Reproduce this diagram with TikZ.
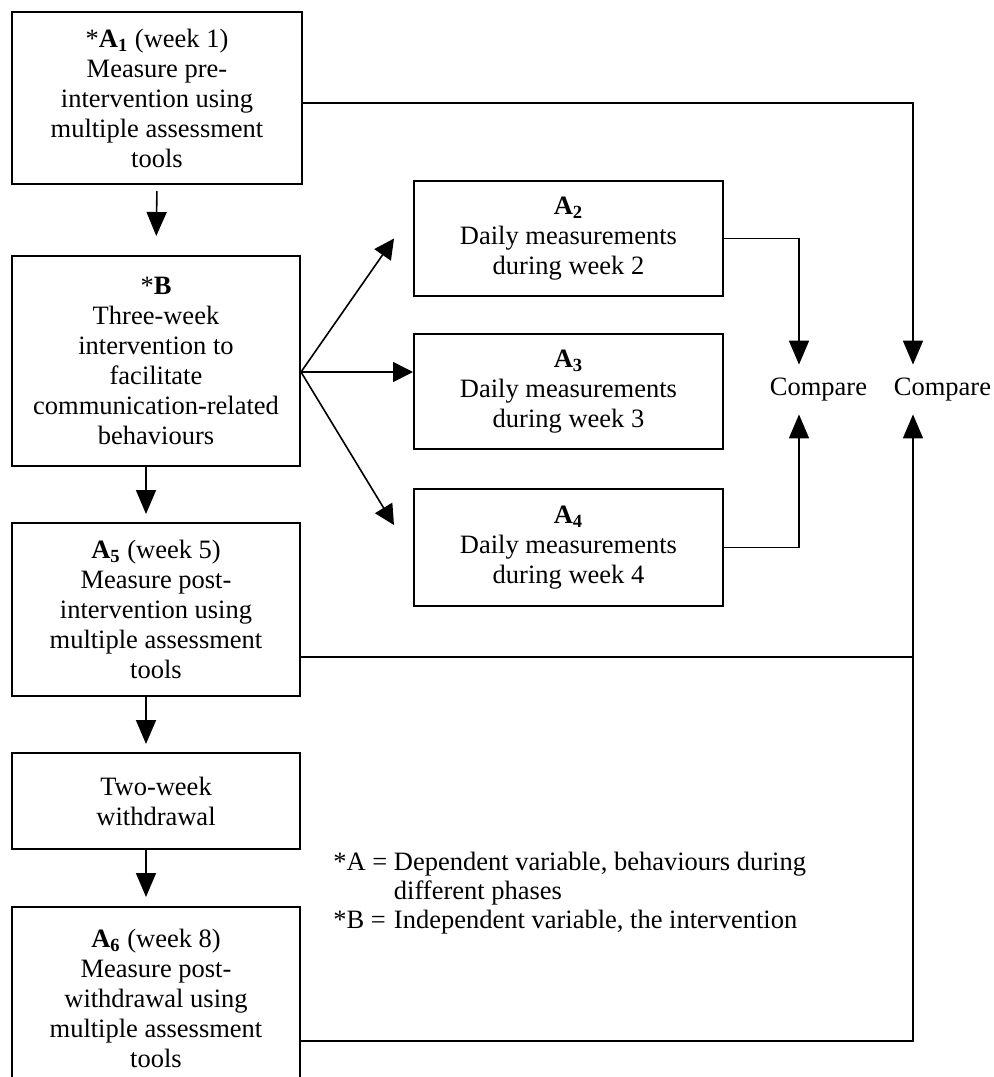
\documentclass[tikz,border=0pt]{standalone}
\usepackage{fontspec}
\setmainfont{Liberation Serif}
\usepackage{tikz}
\usetikzlibrary{arrows.meta}
\usetikzlibrary{positioning, calc}

\begin{document}
\begin{tikzpicture}[
      x=0.5pt, y=-0.5pt,
      box_style/.style={draw, line width=1pt, align=center, inner sep=0pt,
        font=\fontsize{13.25}{15}\selectfont},
      left_box/.style={box_style, minimum width=144pt},
      right_box/.style={box_style, minimum width=154.5pt, minimum height=57.5pt},
      lbl/.style={inner sep=0pt, font=\fontsize{13.25}{15}\selectfont},
      arrow_style/.style={line width=0.8pt, -{Triangle[length=12pt, width=10pt]}},
      fan_style/.style={line width=0.8pt, -{Triangle[length=10pt, width=10pt]}},
      line_style/.style={line width=0.8pt}
  ]

  % 1. Area del disegno
  \clip (0, 0) rectangle (994, 1077);

  % 2. Colonna sinistra
  \node[left_box, minimum width=145pt, minimum height=86pt] (a1) at (157, 98)
    {*\textbf{A\textsubscript{1}} (week 1)\\ Measure pre-\\ intervention using\\ multiple assessment\\ tools};
  \node[left_box, minimum height=105pt] (b) at (156, 361)
    {*\textbf{B}\\ Three-week\\ intervention to\\ facilitate\\ communication-related\\ behaviours};
  \node[left_box, minimum height=86.5pt] (a5) at (156, 609.5)
    {\textbf{A\textsubscript{5}} (week 5)\\ Measure post-\\ intervention using\\ multiple assessment\\ tools};
  \node[left_box, minimum height=48pt] (wd) at (156, 801)
    {Two-week\\ withdrawal};
  \node[left_box, minimum height=91pt] (a6) at (156, 998)
    {\textbf{A\textsubscript{6}} (week 8)\\ Measure post-\\ withdrawal using\\ multiple assessment\\ tools};

  % 3. Misure giornaliere
  \node[right_box] (a2) at (568.5, 238.5)
    {\textbf{A\textsubscript{2}}\\ Daily measurements\\ during week 2};
  \node[right_box] (a3) at (568.5, 391.5)
    {\textbf{A\textsubscript{3}}\\ Daily measurements\\ during week 3};
  \node[right_box, minimum height=58.5pt] (a4) at (568.5, 547.5)
    {\textbf{A\textsubscript{4}}\\ Daily measurements\\ during week 4};

  % 4. Confronti
  \node[lbl, minimum height=24.5pt] (cmp1) at (818.5, 389.5) {Compare};
  \node[lbl, minimum height=24.5pt] (cmp2) at (942.5, 389.5) {Compare};

  % 5. Frecce verticali
  \draw[arrow_style, shorten <=3pt, shorten >=9.5pt] (a1.south) -- (b.north);
  \draw[arrow_style, shorten >=4pt] ([xshift=-5pt]b.south) -- ([xshift=-5pt]a5.north);
  \draw[arrow_style, shorten >=4pt] ([xshift=-5pt]a5.south) -- ([xshift=-5pt]wd.north);
  \draw[arrow_style, shorten >=4.5pt] ([xshift=-5pt]wd.south) -- ([xshift=-5pt]a6.north);

  % 6. Ventaglio da B
  \coordinate (fan) at ($(b.east)+(0, 11)$);
  \draw[fan_style] (fan) -- ($(a2.west)+(-19, 0)$);
  \draw[fan_style] (fan) -- (fan -| a3.west);
  \draw[fan_style] (fan) -- ($(a4.west)+(-19, -22.5)$);

  % 7. Collegamenti ai confronti
  \draw[arrow_style] (a2.east) -| ($(cmp1.north)+(-19.5, 0)$);
  \draw[arrow_style] (a4.east) -| ($(cmp1.south)+(-19.5, 0)$);
  \draw[arrow_style] ($(a1.east)+(0, 5)$) -| ($(cmp2.north)+(-29.5, 0)$);
  \coordinate (cmp2in) at ($(cmp2.south)+(-29.5, 0)$);
  \draw[arrow_style] ($(a6.east)+(0, 43)$) -| (cmp2in);
  \coordinate (a5out) at ($(a5.east)+(0, 47.5)$);
  \draw[line_style] (a5out) -- (a5out -| cmp2in);

  % 8. Legenda
  \node[lbl, anchor=west, font=\fontsize{13.25}{14.5}\selectfont] (key) at (333, 894)
    {\begin{tabular}{@{}l@{\ }l@{}}
      {*A} = & Dependent variable, behaviours during\\
             & different phases\\
      {*B} = & Independent variable, the intervention
    \end{tabular}};

\end{tikzpicture}
\end{document}
